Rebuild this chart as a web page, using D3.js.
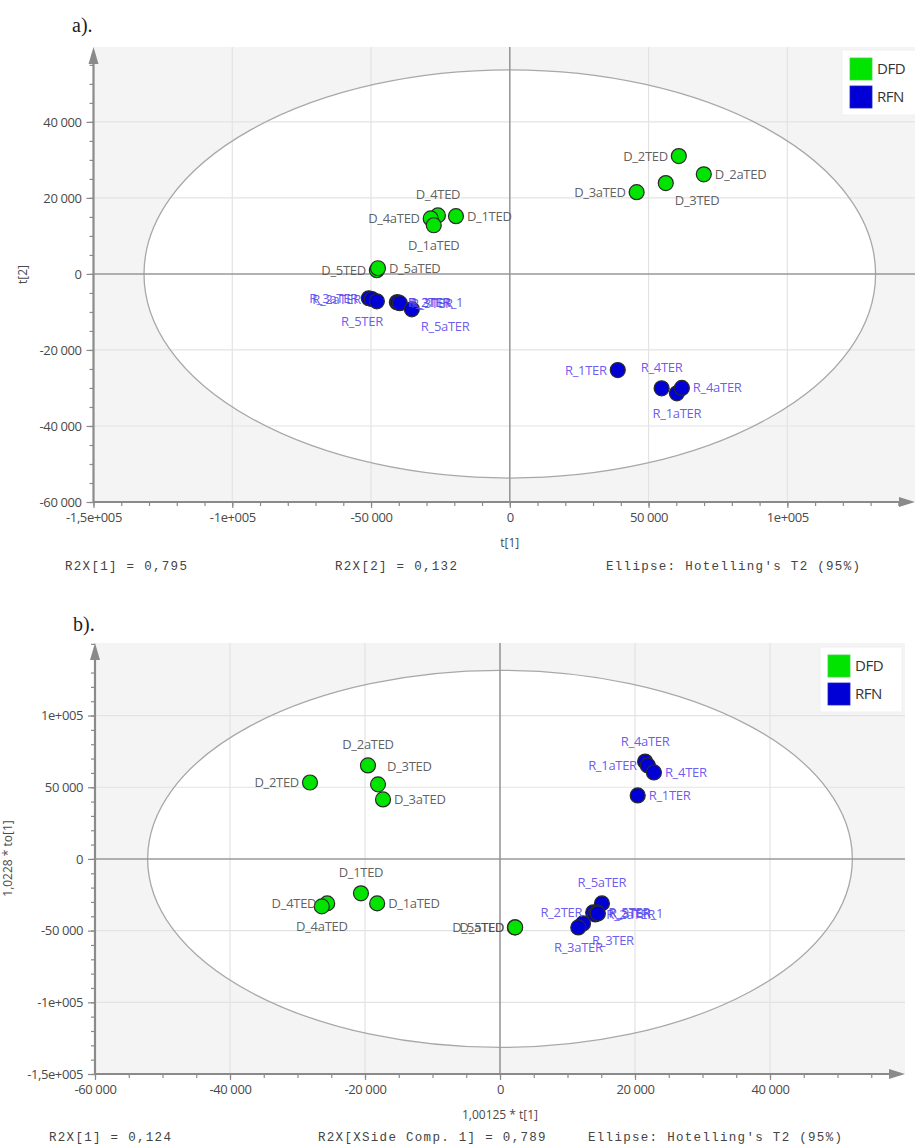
<!DOCTYPE html>
<html>
<head>
<meta charset="utf-8">
<script src="https://cdn.jsdelivr.net/npm/d3@7/dist/d3.min.js"></script>
<style>
  body { margin: 0; background: #fff; }
  svg { display: block; }
</style>
</head>
<body>
<svg id="chart" width="915" height="1147"></svg>
<script>
// ---- panel a : scores t[1] / t[2]
const namesA = ["D_2TED", "D_2aTED", "D_3TED", "D_3aTED", "D_1TED", "D_4TED", "D_4aTED", "D_1aTED", "D_5TED", "D_5aTED",
  "R_1TER", "R_4TER", "R_1aTER", "R_4aTER", "R_3aTER", "R_2aTER", "R_5TER", "R_2TER", "R_3TER_1", "R_3TER", "R_5aTER"];
const groupA = ["DFD", "DFD", "DFD", "DFD", "DFD", "DFD", "DFD", "DFD", "DFD", "DFD",
  "RFN", "RFN", "RFN", "RFN", "RFN", "RFN", "RFN", "RFN", "RFN", "RFN", "RFN"];
const t1A = [60900, 69900, 56200, 45700, -19400, -25900, -28500, -27400, -47900, -47500,
  38900, 54700, 60200, 62000, -50800, -49700, -47900, -40700, -40300, -39600, -35300];
const t2A = [31000, 26200, 23900, 21500, 15200, 15400, 14600, 12800, 970, 1500,
  -25300, -30100, -31400, -30000, -6400, -6600, -7200, -7450, -7500, -7700, -9300];
const ellipseA = [131800, 53700];
const xTicksA = [-150000, -100000, -50000, 0, 50000, 100000];
const xTickLabelsA = ["-1,5e+005", "-1e+005", "-50 000", "0", "50 000", "1e+005"];
const yTicksA = [-60000, -40000, -20000, 0, 20000, 40000];
const yTickLabelsA = ["-60 000", "-40 000", "-20 000", "0", "20 000", "40 000"];
const footerA = ["R2X[1] = 0,795", "R2X[2] = 0,132", "Ellipse: Hotelling's T2 (95%)"];

// ---- panel b : predictive vs orthogonal scores
const namesB = ["D_2TED", "D_2aTED", "D_3TED", "D_3aTED", "D_1TED", "D_1aTED", "D_4TED", "D_4aTED", "D_5aTED", "D_5TED",
  "R_4aTER", "R_1aTER", "R_4TER", "R_1TER", "R_5aTER", "R_2TER", "R_2aTER", "R_5TER", "R_3TER_1", "R_3TER", "R_3aTER"];
const groupB = ["DFD", "DFD", "DFD", "DFD", "DFD", "DFD", "DFD", "DFD", "DFD", "DFD",
  "RFN", "RFN", "RFN", "RFN", "RFN", "RFN", "RFN", "RFN", "RFN", "RFN", "RFN"];
const t1B = [-28150, -19560, -18070, -17330, -20600, -18200, -25600, -26400, 2200, 2250,
  21500, 21900, 22800, 20400, 15100, 13800, 14100, 14400, 14500, 12300, 11600];
const toB = [53300, 65200, 52000, 41500, -24000, -31000, -31000, -33100, -47800, -47700,
  67900, 65200, 60300, 44300, -31000, -37300, -38700, -37300, -38000, -45000, -47800];
const ellipseB = [52200, 131500];
const xTicksB = [-60000, -40000, -20000, 0, 20000, 40000];
const xTickLabelsB = ["-60 000", "-40 000", "-20 000", "0", "20 000", "40 000"];
const yTicksB = [-150000, -100000, -50000, 0, 50000, 100000];
const yTickLabelsB = ["-1,5e+005", "-1e+005", "-50 000", "0", "50 000", "1e+005"];
const footerB = ["R2X[1] = 0,124", "R2X[XSide Comp. 1] = 0,789", "Ellipse: Hotelling's T2 (95%)"];

const groups = ["DFD", "RFN"];

// where each point label sits relative to its marker
const sideA = {
  D_2TED: "l", D_2aTED: "r", D_3TED: "br", D_3aTED: "l", D_1TED: "r", D_4TED: "t", D_4aTED: "l", D_1aTED: "b",
  D_5TED: "l", D_5aTED: "r", R_1TER: "l", R_4TER: "t", R_1aTER: "b", R_4aTER: "r", R_3aTER: "l", R_2aTER: "l",
  R_5TER: "bl", R_2TER: "r", R_3TER_1: "r", R_3TER: "r", R_5aTER: "br"
};
const sideB = {
  D_2TED: "l", D_2aTED: "t", D_3TED: "tr", D_3aTED: "r", D_1TED: "t", D_1aTED: "r", D_4TED: "l", D_4aTED: "b",
  D_5aTED: "l", D_5TED: "l", R_4aTER: "t", R_1aTER: "l", R_4TER: "r", R_1TER: "r", R_5aTER: "t", R_2TER: "l",
  R_2aTER: "r", R_5TER: "r", R_3TER_1: "r", R_3TER: "br", R_3aTER: "b"
};

const fill = { DFD: "#00e400", RFN: "#0000d6" };
const labelColor = { DFD: "#4d4d4d", RFN: "#5a48ee" };
const sans = "'Open Sans', 'Noto Sans', sans-serif";
const mono = "'Liberation Mono', 'DejaVu Sans Mono', monospace";

const svg = d3.select("#chart");

function drawPanel(cfg) {
  const x = d3.scaleLinear().domain(cfg.xDomain).range(cfg.xRange);
  const y = d3.scaleLinear().domain(cfg.yDomain).range(cfg.yRange);
  const g = svg.append("g");
  const [x0, x1] = cfg.xRange;
  const [y0, y1] = cfg.yRange;

  // panel tag
  g.append("text").attr("x", cfg.tag[1]).attr("y", cfg.tag[2])
    .attr("font-family", "'Liberation Serif', serif").attr("font-size", 20).attr("fill", "#222")
    .text(cfg.tag[0]);

  // grey plot area with white tolerance ellipse
  g.append("rect").attr("x", x0).attr("y", y1).attr("width", x1 - x0).attr("height", y0 - y1).attr("fill", "#f4f4f4");
  const ell = g.append("ellipse")
    .attr("cx", x(0)).attr("cy", y(0))
    .attr("rx", x(cfg.ellipse[0]) - x(0)).attr("ry", y(0) - y(cfg.ellipse[1]));
  ell.attr("fill", "#fff");

  // grid
  g.selectAll(".gx").data(cfg.xTicks.filter(d => d !== 0 && d !== cfg.xDomain[0])).enter().append("line")
    .attr("x1", d => x(d)).attr("x2", d => x(d)).attr("y1", y0).attr("y2", y1)
    .attr("stroke", "#e3e3e3").attr("stroke-width", 1.2);
  g.selectAll(".gy").data(cfg.yTicks.filter(d => d !== 0 && d !== cfg.yDomain[0])).enter().append("line")
    .attr("x1", x0).attr("x2", x1).attr("y1", d => y(d)).attr("y2", d => y(d))
    .attr("stroke", "#e3e3e3").attr("stroke-width", 1.2);

  g.append("ellipse")
    .attr("cx", x(0)).attr("cy", y(0))
    .attr("rx", x(cfg.ellipse[0]) - x(0)).attr("ry", y(0) - y(cfg.ellipse[1]))
    .attr("fill", "none").attr("stroke", "#a8a8a8").attr("stroke-width", 1.3);

  // zero lines
  g.append("line").attr("x1", x(0)).attr("x2", x(0)).attr("y1", y0).attr("y2", y1)
    .attr("stroke", "#999").attr("stroke-width", 1.6);
  g.append("line").attr("x1", x0).attr("x2", x1).attr("y1", y(0)).attr("y2", y(0))
    .attr("stroke", "#999").attr("stroke-width", 1.6);

  // axes
  const xAxis = g.append("g").attr("transform", `translate(0,${y0})`)
    .call(d3.axisBottom(x).tickValues(cfg.xTicks).tickFormat((d, i) => cfg.xTickLabels[i]).tickSize(6).tickPadding(5));
  const xMinor = g.append("g").attr("transform", `translate(0,${y0})`)
    .call(d3.axisBottom(x).tickValues(d3.range(cfg.xDomain[0], cfg.xDomain[1], cfg.xMinor)).tickFormat("").tickSize(4));
  const yAxis = g.append("g").attr("transform", `translate(${x0},0)`)
    .call(d3.axisLeft(y).tickValues(cfg.yTicks).tickFormat((d, i) => cfg.yTickLabels[i]).tickSize(7).tickPadding(5));
  const yMinor = g.append("g").attr("transform", `translate(${x0},0)`)
    .call(d3.axisLeft(y).tickValues(d3.range(cfg.yDomain[0], cfg.yDomain[1], cfg.yMinor)).tickFormat("").tickSize(4));
  [xAxis, xMinor, yAxis, yMinor].forEach(a => {
    a.select(".domain").remove();
    a.selectAll("line").attr("stroke", "#8a8a8a").attr("stroke-width", 1.2);
    a.selectAll("text").attr("font-family", sans).attr("font-size", 13).attr("fill", "#4a4a4a")
      .attr("letter-spacing", "-0.4px");
  });

  // axis lines with arrow heads
  g.append("line").attr("x1", x0).attr("x2", x1 - 10).attr("y1", y0).attr("y2", y0)
    .attr("stroke", "#8a8a8a").attr("stroke-width", 2.2);
  g.append("line").attr("x1", x0).attr("x2", x0).attr("y1", y0 + 1).attr("y2", y1 + 12)
    .attr("stroke", "#8a8a8a").attr("stroke-width", 2.2);
  g.append("path").attr("d", `M${x1},${y0} L${x1 - 16},${y0 - 5} L${x1 - 16},${y0 + 5} Z`).attr("fill", "#8a8a8a");
  g.append("path").attr("d", `M${x0},${y1} L${x0 - 5},${y1 + 17} L${x0 + 5},${y1 + 17} Z`).attr("fill", "#8a8a8a");

  // axis titles
  g.append("text").attr("x", x(0)).attr("y", y0 + 45).attr("text-anchor", "middle")
    .attr("font-family", sans).attr("font-size", 12).attr("fill", "#4a4a4a").text(cfg.xTitle);
  g.append("text").attr("transform", `translate(${cfg.yTitleX},${(y0 + y1) / 2}) rotate(-90)`)
    .attr("text-anchor", "middle").attr("font-family", sans).attr("font-size", 12).attr("fill", "#4a4a4a")
    .text(cfg.yTitle);

  // footer
  g.selectAll(".foot").data(cfg.footer).enter().append("text")
    .attr("x", (d, i) => cfg.footerX[i]).attr("y", cfg.footerY)
    .attr("font-family", mono).attr("font-size", 12.5).attr("letter-spacing", "1.3px").attr("fill", "#444")
    .text(d => d);

  // points + labels
  const pts = cfg.names.map((n, i) => ({ name: n, gx: cfg.t1[i], gy: cfg.t2[i], grp: cfg.group[i] }));
  g.selectAll(".pt").data(pts).enter().append("circle")
    .attr("cx", d => x(d.gx)).attr("cy", d => y(d.gy)).attr("r", 7.5)
    .attr("fill", d => fill[d.grp]).attr("stroke", "#2a2a2a").attr("stroke-width", 1.2);

  const off = {
    l: [-11, 4.5, "end"], r: [11, 4.5, "start"], t: [0, -16, "middle"], b: [0, 25, "middle"],
    br: [9, 22, "start"], bl: [6, 25, "end"], tr: [9, -13, "start"]
  };
  g.selectAll(".lb").data(pts).enter().append("text")
    .attr("x", d => x(d.gx) + off[cfg.sides[d.name]][0])
    .attr("y", d => y(d.gy) + off[cfg.sides[d.name]][1])
    .attr("text-anchor", d => off[cfg.sides[d.name]][2])
    .attr("font-family", sans).attr("font-size", 13).attr("letter-spacing", "-0.3px")
    .attr("fill", d => labelColor[d.grp]).attr("fill-opacity", 0.9)
    .text(d => d.name);

  // legend
  const lg = g.append("g").attr("transform", `translate(${cfg.legend[0]},${cfg.legend[1]})`);
  lg.append("rect").attr("x", 0).attr("y", 0).attr("width", cfg.legend[2]).attr("height", 65)
    .attr("fill", "#fff").attr("stroke", "#f0f0f0");
  groups.forEach((k, i) => {
    lg.append("rect").attr("x", 8).attr("y", 8 + i * 28).attr("width", 22).attr("height", 22)
      .attr("fill", fill[k]).attr("stroke", k === "DFD" ? "#3fd33f" : "#2020c0").attr("stroke-width", 0.8);
    lg.append("text").attr("x", 35).attr("y", 19 + i * 28).attr("dy", "0.35em")
      .attr("font-family", sans).attr("font-size", 15).attr("fill", "#333").attr("letter-spacing", "-0.5px")
      .text(k);
  });
}

drawPanel({
  tag: ["a).", 72, 32],
  names: namesA, t1: t1A, t2: t2A, group: groupA, sides: sideA,
  xDomain: [-150000, 146000], yDomain: [-60000, 59700],
  xRange: [93.5, 915], yRange: [502, 47],
  xTicks: xTicksA, xTickLabels: xTickLabelsA, xMinor: 10000,
  yTicks: yTicksA, yTickLabels: yTickLabelsA, yMinor: 5000,
  ellipse: ellipseA,
  xTitle: "t[1]", yTitle: "t[2]", yTitleX: 27,
  footer: footerA, footerX: [65, 335, 606], footerY: 570,
  legend: [842, 50, 80]
});

drawPanel({
  tag: ["b).", 73, 631],
  names: namesB, t1: t1B, t2: toB, group: groupB, sides: sideB,
  xDomain: [-60000, 60000], yDomain: [-150000, 150600],
  xRange: [95, 905], yRange: [1074, 643],
  xTicks: xTicksB, xTickLabels: xTickLabelsB, xMinor: 5000,
  yTicks: yTicksB, yTickLabels: yTickLabelsB, yMinor: 10000,
  ellipse: ellipseB,
  xTitle: "1,00125 * t[1]", yTitle: "1,0228 * to[1]", yTitleX: 12,
  footer: footerB, footerX: [49, 318, 588], footerY: 1141,
  legend: [820, 647, 82]
});
</script>
</body>
</html>
